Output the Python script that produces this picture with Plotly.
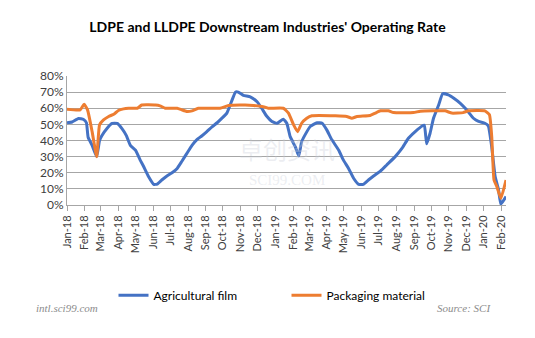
import plotly.graph_objects as go

film_dates = ["2018-01-01","2018-01-10","2018-01-21","2018-01-30","2018-02-04","2018-02-07","2018-02-14","2018-02-22",
    "2018-02-27","2018-03-03","2018-03-12","2018-03-21","2018-03-30","2018-04-07","2018-04-15","2018-04-22",
    "2018-05-01","2018-05-09","2018-05-15","2018-05-24","2018-06-02","2018-06-08","2018-06-16","2018-06-25",
    "2018-07-04","2018-07-13","2018-07-21","2018-07-30","2018-08-08","2018-08-17","2018-08-25","2018-09-03",
    "2018-09-12","2018-09-21","2018-09-29","2018-10-08","2018-10-16","2018-10-23","2018-10-28","2018-11-06",
    "2018-11-18","2018-11-30","2018-12-08","2018-12-17","2018-12-26","2019-01-04","2019-01-15","2019-01-21",
    "2019-01-27","2019-02-05","2019-02-11","2019-02-16","2019-02-22","2019-03-03","2019-03-15","2019-03-24",
    "2019-04-01","2019-04-10","2019-04-22","2019-04-30","2019-05-09","2019-05-18","2019-05-27","2019-06-04",
    "2019-06-13","2019-06-22","2019-07-04","2019-07-15","2019-07-30","2019-08-11","2019-08-22","2019-09-03",
    "2019-09-15","2019-09-19","2019-09-23","2019-09-29","2019-10-05","2019-10-14","2019-10-21","2019-10-31",
    "2019-11-09","2019-11-21","2019-12-02","2019-12-14","2019-12-23","2020-01-03","2020-01-09","2020-01-15",
    "2020-01-21","2020-01-27","2020-01-31","2020-02-09"]
film_values = [51,51.5,53.7,53,51,42,37,30,
    40,43,47.5,50.6,50.6,47.5,43,37,
    34,28,24,17.5,12.8,13,15.5,18,
    20,22.7,27,32,37,40.7,42.8,45.5,
    48.5,51,53.7,57,64,70,70,68,
    67,64,60,55,51.8,50.7,53.2,50.7,
    42.4,36,30.4,39.3,43.5,48.7,51,50.7,
    46.6,40.4,34,28,22.8,16.6,12.8,12.8,
    15.5,18,21,24.8,30,35.2,41.4,45.5,
    49,49.5,38,44.5,53.8,62,69,68.3,
    66.3,63,59,53.8,51.8,50.7,49,36,
    17.6,9.3,0.5,5.2]

pack_dates = ["2018-01-01","2018-01-24","2018-01-31","2018-02-06","2018-02-14","2018-02-22","2018-02-27","2018-03-06",
    "2018-03-15","2018-03-24","2018-04-01","2018-04-10","2018-04-19","2018-05-04","2018-05-12","2018-06-05",
    "2018-06-13","2018-06-22","2018-07-13","2018-07-21","2018-07-30","2018-08-08","2018-08-19","2018-09-26",
    "2018-10-11","2018-11-09","2018-11-24","2018-12-14","2018-12-20","2019-01-15","2019-01-24","2019-02-02",
    "2019-02-09","2019-02-16","2019-02-25","2019-03-06","2019-04-16","2019-05-06","2019-05-15","2019-05-24",
    "2019-06-16","2019-06-25","2019-07-04","2019-07-18","2019-07-27","2019-08-31","2019-09-12","2019-10-25",
    "2019-11-06","2019-11-26","2019-12-05","2020-01-03","2020-01-11","2020-01-15","2020-01-19","2020-01-24",
    "2020-01-31","2020-02-09"]
pack_values = [59.4,59,62.5,59,45.5,30,49.7,52.8,
    54.9,56.3,58.6,59.6,60,60,62,62,
    61.5,60,60,59,58,58.4,60,60,
    61.7,62,61.7,60.7,60,60,57,49.7,
    45.5,50.7,53.8,55.3,55.3,54.9,53.8,54.9,
    55.5,57,58.4,58.4,57.3,57.3,58.2,58.4,
    57,57.3,58.4,58.4,56,42.4,15.5,11.4,
    4.1,15.5]

title = "LDPE and LLDPE Downstream Industries' Operating Rate"
series_names = ["Agricultural film", "Packaging material"]
colors = ["#4472C4", "#ED7D31"]

fig = go.Figure()
fig.add_trace(go.Scatter(x=film_dates, y=film_values, mode="lines", name=series_names[0],
                         line=dict(color=colors[0], width=3, shape="spline", smoothing=0.4)))
fig.add_trace(go.Scatter(x=pack_dates, y=pack_values, mode="lines", name=series_names[1],
                         line=dict(color=colors[1], width=3, shape="spline", smoothing=0.4)))

fig.update_layout(
    width=535, height=338,
    margin=dict(l=67, r=29, t=76, b=133),
    paper_bgcolor="white", plot_bgcolor="white",
    font=dict(family="Lato, Open Sans, sans-serif", color="#404040", size=11),
    title=dict(text="<b>" + title + "</b>", x=0.5, xanchor="center", y=1 - 27/338, yanchor="middle",
               font=dict(size=14, color="black", family="Lato, Open Sans, sans-serif")),
    showlegend=True,
    legend=dict(orientation="h", x=0.5, xanchor="center", y=-0.70, yanchor="middle",
                font=dict(size=12, color="black"), entrywidth=128, itemwidth=30,
                bgcolor="rgba(0,0,0,0)"),
    xaxis=dict(type="date", range=["2018-01-01", "2020-02-09"], dtick="M1", tick0="2018-01-01",
               tickformat="%b-%y", tickangle=-90, ticks="outside", ticklen=5, tickcolor="#A6A6A6",
               showline=True, linecolor="#A6A6A6", linewidth=1, showgrid=False,
               tickfont=dict(size=11, color="#404040")),
    yaxis=dict(range=[0, 80], dtick=10, ticksuffix="%", showline=True, linecolor="#A6A6A6",
               gridcolor="#A6A6A6", gridwidth=1, zeroline=False, ticks="",
               tickfont=dict(size=12, color="#404040")),
)

# watermark
fig.add_annotation(text="卓创资讯", xref="paper", yref="paper", x=0.5, y=0.29, showarrow=False,
                   font=dict(size=24, color="rgba(200,205,215,0.35)", family="Noto Sans CJK SC"))
fig.add_annotation(text="SCI99.COM", xref="paper", yref="paper", x=0.5, y=0.12, showarrow=False,
                   font=dict(size=15, color="rgba(200,205,215,0.35)", family="Liberation Serif"))
fig.add_annotation(text="<i>intl.sci99.com</i>", xref="paper", yref="paper", x=0.0, y=-0.80,
                   xanchor="center", yanchor="middle", showarrow=False,
                   font=dict(size=11, color="#8C8C8C", family="Liberation Serif"))
fig.add_annotation(text="<i>Source: SCI</i>", xref="paper", yref="paper", x=0.97, y=-0.80,
                   xanchor="right", yanchor="middle", showarrow=False,
                   font=dict(size=11, color="#8C8C8C", family="Liberation Serif"))

fig.write_html("out.html")
